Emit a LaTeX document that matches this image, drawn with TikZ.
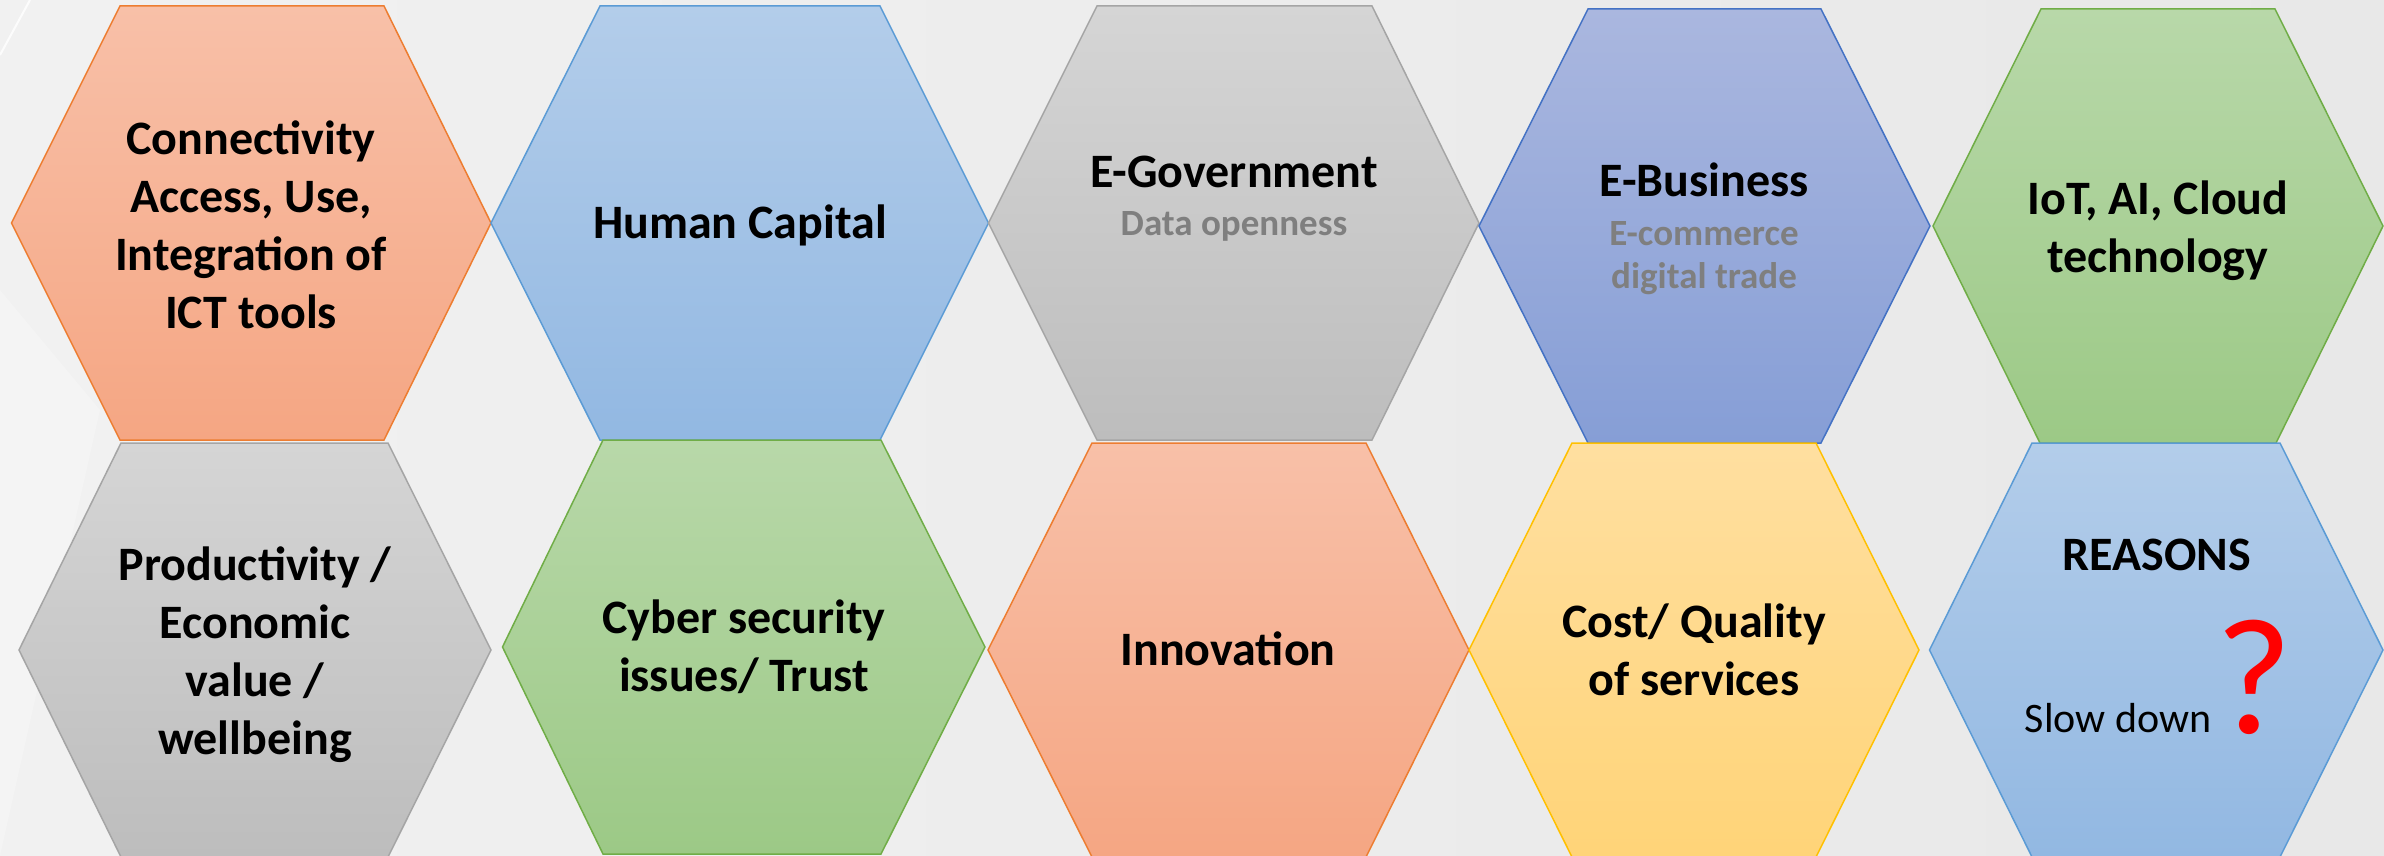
\documentclass[tikz,border=0pt]{standalone}
\usepackage{fontspec}
\setmainfont{Carlito}
\definecolor{bgA}{RGB}{241,241,241}
\definecolor{bgB}{RGB}{232,232,232}
\definecolor{bgF}{RGB}{246,246,246}
\definecolor{orT}{RGB}{248,192,168}
\definecolor{orB}{RGB}{245,166,131}
\definecolor{orL}{RGB}{237,125,49}
\definecolor{blT}{RGB}{179,205,234}
\definecolor{blB}{RGB}{146,184,226}
\definecolor{blL}{RGB}{91,155,213}
\definecolor{gyT}{RGB}{213,213,213}
\definecolor{gyB}{RGB}{189,189,189}
\definecolor{gyL}{RGB}{165,165,165}
\definecolor{dbT}{RGB}{170,183,223}
\definecolor{dbB}{RGB}{134,158,214}
\definecolor{dbL}{RGB}{68,114,196}
\definecolor{gnT}{RGB}{184,216,169}
\definecolor{gnB}{RGB}{156,201,134}
\definecolor{gnL}{RGB}{112,173,71}
\definecolor{ylT}{RGB}{255,223,160}
\definecolor{ylB}{RGB}{255,212,120}
\definecolor{ylL}{RGB}{255,192,0}
\definecolor{subgray}{RGB}{127,127,127}
\definecolor{qred}{RGB}{255,0,0}
\newcommand{\hexlines}[1]{\begin{tabular}[t]{@{}c@{}}#1\end{tabular}}
\tikzset{
  hexbox/.style={line width=0.75pt, line join=miter},
  orhex/.style={hexbox, draw=orL, top color=orT, bottom color=orB},
  blhex/.style={hexbox, draw=blL, top color=blT, bottom color=blB},
  gyhex/.style={hexbox, draw=gyL, top color=gyT, bottom color=gyB},
  dbhex/.style={hexbox, draw=dbL, top color=dbT, bottom color=dbB},
  gnhex/.style={hexbox, draw=gnL, top color=gnT, bottom color=gnB},
  ylhex/.style={hexbox, draw=ylL, top color=ylT, bottom color=ylB},
  lbl/.style={anchor=base, inner sep=0pt, font=\bfseries\fontsize{24}{29}\selectfont},
  sublbl/.style={anchor=base, inner sep=0pt, text=subgray, font=\bfseries\fontsize{18.5}{21.5}\selectfont},
  plainlbl/.style={anchor=base, inner sep=0pt, font=\fontsize{21}{25}\selectfont},
  qlbl/.style={anchor=base, inner sep=0pt, text=qred, font=\fontsize{83}{90}\selectfont},
}
\begin{document}
\begin{tikzpicture}[x=0.5pt, y=-0.5pt]
\useasboundingbox (0,0) rectangle (2384,856);
\shade[left color=bgA, right color=bgB] (0,0) rectangle (2384,856);
% faint background facets
\draw[white, line width=1pt, opacity=0.8] (30,0) -- (0,55);
\fill[bgF, opacity=0.6] (0,290) -- (100,410) -- (0,856) -- cycle;
% top row
\path[orhex] (120,6) -- (384,6) -- (491,223) -- (384,440) -- (120,440) -- (11.5,223) -- cycle;
\path[blhex] (600,6) -- (880,6) -- (988.5,223) -- (880,440) -- (600,440) -- (491,223) -- cycle;
\path[gyhex] (1097,6) -- (1372,6) -- (1479,223) -- (1372,440) -- (1097,440) -- (988.5,223) -- cycle;
\path[dbhex] (1588,9) -- (1821,9) -- (1930,226) -- (1821,443) -- (1588,443) -- (1479,226) -- cycle;
\path[gnhex] (2041,9) -- (2275,9) -- (2383,226) -- (2276,443) -- (2040,443) -- (1933,226) -- cycle;
% bottom row
\path[gyhex] (121,443) -- (388,443) -- (491,650) -- (388,857) -- (121,857) -- (19,650) -- cycle;
\path[gnhex] (603,440) -- (881,440) -- (985,647) -- (881,854) -- (603,854) -- (502.5,647) -- cycle;
\path[orhex] (1092,443) -- (1366,443) -- (1469,650) -- (1366,857) -- (1092,857) -- (988,650) -- cycle;
\path[ylhex] (1572,443) -- (1816,443) -- (1919,650) -- (1816,857) -- (1572,857) -- (1469,650) -- cycle;
\path[blhex] (2032,443) -- (2280,443) -- (2383,650) -- (2280,857) -- (2032,857) -- (1929.5,650) -- cycle;
% texts top row
\node[lbl] (t1) at (251,155) {\hexlines{Connectivity\\Access, Use,\\Integration of\\ICT tools}};
\node[lbl] (t2) at (740,238) {Human Capital};
\node[lbl] (t3) at (1234,187) {E-Government};
\node[sublbl] (s3) at (1234,235) {Data openness};
\node[lbl] (t4) at (1704,197) {E-Business};
\node[sublbl] (s4) at (1704,245) {\hexlines{E-commerce\\digital trade}};
\node[lbl] (t5) at (2158,214) {\hexlines{IoT, AI, Cloud\\technology}};
% texts bottom row
\node[lbl] (b1) at (255,580) {\hexlines{Productivity /\\Economic\\value /\\wellbeing}};
\node[lbl] (b2) at (744,633) {\hexlines{Cyber security\\issues/ Trust}};
\node[lbl] (b3) at (1228,665) {Innovation};
\node[lbl] (b4) at (1694,637) {\hexlines{Cost/ Quality\\of services}};
\node[lbl] (b5) at (2157,570) {REASONS};
\node[plainlbl] (b5s) at (2118,732) {Slow down};
\node[qlbl] (b5q) at (2254,733) {?};
\end{tikzpicture}
\end{document}
